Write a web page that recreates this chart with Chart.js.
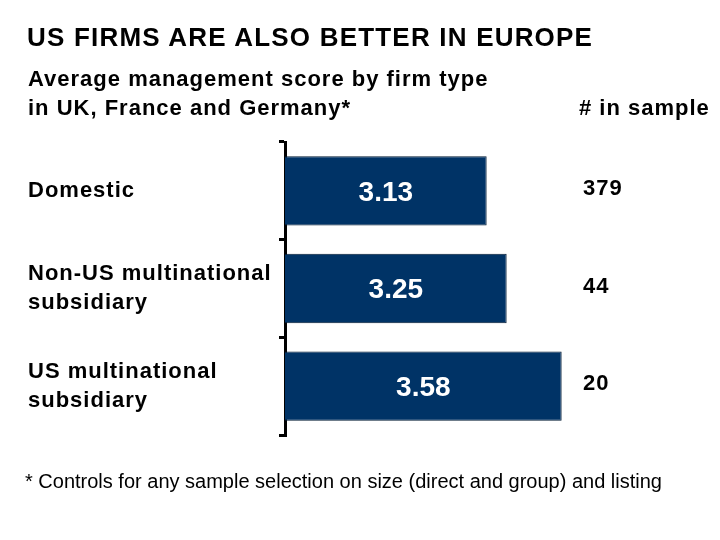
<!DOCTYPE html>
<html>
<head>
<meta charset="utf-8">
<script src="https://cdn.jsdelivr.net/npm/chart.js@4.4.1/dist/chart.umd.min.js"></script>
<style>
    html, body { margin: 0; padding: 0; background: #fff; }
    body { width: 720px; height: 540px; position: relative; overflow: hidden; font-family: "Liberation Sans", Arial, sans-serif; }
    #chart { position: absolute; left: 0; top: 0; }
    .txt { position: absolute; white-space: nowrap; color: #000; }
    #title { left: 27px; top: 22px; font-size: 26px; line-height: 30px; font-weight: bold; letter-spacing: 1.2px; }
    #subtitle { left: 28px; top: 64px; font-size: 22px; line-height: 29px; font-weight: bold; letter-spacing: 1px; }
    #sampleHead { left: 579px; top: 93px; font-size: 22px; line-height: 29px; font-weight: bold; letter-spacing: 1px; }
    #footnote { left: 25px; top: 469px; font-size: 20px; line-height: 24px; }
</style>
</head>
<body>
<canvas id="chart" width="720" height="540"></canvas>
<div class="txt" id="title">US FIRMS ARE ALSO BETTER IN EUROPE</div>
<div class="txt" id="subtitle">Average management score by firm type<br>in UK, France and Germany*</div>
<div class="txt" id="sampleHead"># in sample</div>
<div class="txt" id="footnote">* Controls for any sample selection on size (direct and group) and listing</div>
<script>
// Veriler
const firmTypes = [['Domestic'], ['Non-US multinational', 'subsidiary'], ['US multinational', 'subsidiary']];
const scores = [3.13, 3.25, 3.58];
const sampleSizes = [379, 44, 20];

const barColor = '#003366';

// Çubuk içindeki değerler ve örneklem sayıları
const labelPlugin = {
    id: 'barLabels',
    beforeDraw(chart) {
        chart.ctx.letterSpacing = '1px';
    },
    afterDatasetsDraw(chart) {
        const ctx = chart.ctx;
        const meta = chart.getDatasetMeta(0);
        const left = chart.chartArea.left;
        ctx.save();
        meta.data.forEach((bar, i) => {
            ctx.letterSpacing = '0px';
            ctx.fillStyle = '#fff';
            ctx.font = 'bold 28px "Liberation Sans", Arial, sans-serif';
            ctx.textAlign = 'center';
            ctx.textBaseline = 'middle';
            ctx.fillText(scores[i].toFixed(2), (left + bar.x) / 2, bar.y + 2);

            ctx.letterSpacing = '1px';
            ctx.fillStyle = '#000';
            ctx.font = 'bold 22px "Liberation Sans", Arial, sans-serif';
            ctx.textAlign = 'left';
            ctx.fillText(String(sampleSizes[i]), 583, bar.y - 2);
        });
        ctx.restore();
    }
};

new Chart(document.getElementById('chart'), {
    type: 'bar',
    data: {
        labels: firmTypes,
        datasets: [{
            data: scores,
            backgroundColor: barColor,
            borderColor: '#001a33',
            borderWidth: 1,
            borderSkipped: false,
            categoryPercentage: 1,
            barPercentage: 0.71
        }]
    },
    options: {
        indexAxis: 'y',
        responsive: false,
        devicePixelRatio: 1,
        animation: false,
        layout: { padding: { left: 28, top: 142, right: 5, bottom: 105 } },
        plugins: {
            legend: { display: false },
            tooltip: { enabled: false },
            title: { display: false }
        },
        scales: {
            x: {
                display: false,
                min: 1.92,
                max: 4.5
            },
            y: {
                afterFit(scale) { scale.width = 257; },
                border: { display: true, color: '#000', width: 3 },
                grid: { drawOnChartArea: false, drawTicks: true, tickLength: 6, color: '#000', lineWidth: 3 },
                ticks: {
                    crossAlign: 'far',
                    color: '#000',
                    padding: 8,
                    font: { family: 'Liberation Sans', size: 22, weight: 'bold', lineHeight: 1.32 }
                }
            }
        }
    },
    plugins: [labelPlugin]
});
</script>
</body>
</html>
